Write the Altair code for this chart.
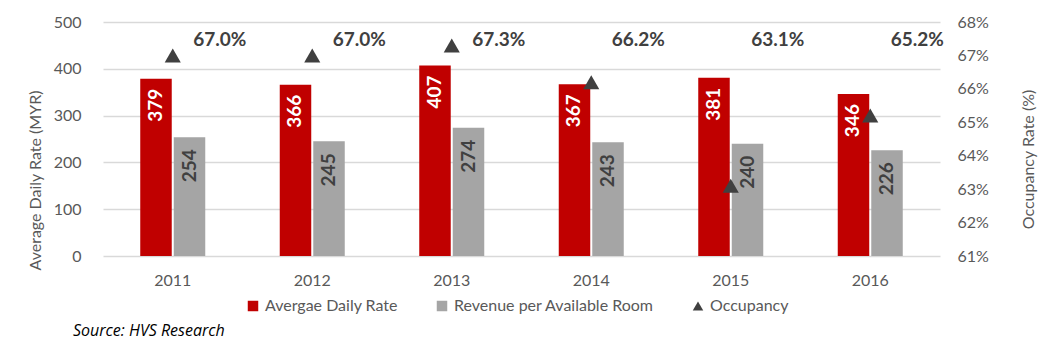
import altair as alt
import pandas as pd

years = ["2011", "2012", "2013", "2014", "2015", "2016"]
adr = [379, 366, 407, 367, 381, 346]
revpar = [254, 245, 274, 243, 240, 226]
occupancy = [67.0, 67.0, 67.3, 66.2, 63.1, 65.2]

S_ADR = "Avergae Daily Rate"
S_REV = "Revenue per Available Room"
S_OCC = "Occupancy"

bars_df = pd.DataFrame(
    [{"year": y, "series": S_ADR, "value": v} for y, v in zip(years, adr)]
    + [{"year": y, "series": S_REV, "value": v} for y, v in zip(years, revpar)]
)
occ_df = pd.DataFrame({"year": years, "occ": occupancy, "series": S_OCC})
occ_df["label"] = occ_df["occ"].map(lambda v: f"{v:.1f}%")

FONT = "Lato"
domain = [S_ADR, S_REV, S_OCC]
color_scale = alt.Scale(domain=domain, range=["#C00000", "#A5A5A5", "#404040"])
shape_scale = alt.Scale(domain=domain, range=["square", "square", "triangle-up"])

x_enc = alt.X(
    "year:N",
    sort=years,
    scale=alt.Scale(paddingInner=0.534, paddingOuter=0.267),
    axis=alt.Axis(
        title=None, labelAngle=0, labelPadding=16, ticks=False, domain=False,
        labelFontSize=16, labelColor="#595959", labelFont=FONT, grid=False,
    ),
)
xoff = alt.XOffset("series:N", sort=[S_ADR, S_REV], scale=alt.Scale(paddingInner=0.06))
y_left = alt.Y(
    "value:Q",
    scale=alt.Scale(domain=[0, 500], nice=False),
    axis=alt.Axis(
        title="Average Daily Rate (MYR)", values=[0, 100, 200, 300, 400, 500],
        ticks=False, domain=False, labelPadding=22, labelFontSize=16,
        labelColor="#595959", labelFont=FONT, gridColor="#D9D9D9", gridWidth=1.5,
        titleFontSize=16, titleFont=FONT, titleFontWeight="normal", titleColor="#595959",
        titleAngle=270, titleX=-68, titleY=158, titleAlign="center", titleBaseline="middle",
    ),
)

bars = alt.Chart(bars_df).mark_bar().encode(
    x=x_enc,
    xOffset=xoff,
    y=y_left,
    color=alt.Color("series:N", scale=color_scale, legend=alt.Legend(title=None)),
)

adr_labels = alt.Chart(bars_df).transform_filter(
    alt.datum.series == S_ADR
).mark_text(
    angle=270, align="right", baseline="middle", dx=-10, font=FONT,
    fontSize=19, fontWeight="bold", color="white",
).encode(
    x=alt.X("year:N", sort=years),
    xOffset=xoff,
    y=alt.Y("value:Q", scale=alt.Scale(domain=[0, 500], nice=False), axis=None),
    text="value:Q",
)
rev_labels = alt.Chart(bars_df).transform_filter(
    alt.datum.series == S_REV
).mark_text(
    angle=270, align="right", baseline="middle", dx=-12, font=FONT,
    fontSize=19, fontWeight="bold", color="#404040",
).encode(
    x=alt.X("year:N", sort=years),
    xOffset=xoff,
    y=alt.Y("value:Q", scale=alt.Scale(domain=[0, 500], nice=False), axis=None),
    text="value:Q",
)

points = alt.Chart(occ_df).mark_point(filled=True, opacity=1, size=260).encode(
    x=alt.X("year:N", sort=years),
    y=alt.Y(
        "occ:Q",
        scale=alt.Scale(domain=[61, 68], nice=False, zero=False),
        axis=alt.Axis(
            orient="right", title="Occupancy Rate (%)", values=list(range(61, 69)),
            labelExpr="datum.value + '%'", ticks=False, domain=False, grid=False,
            labelPadding=17, labelFontSize=16, labelColor="#595959", labelFont=FONT,
            titleFontSize=16, titleFont=FONT, titleFontWeight="normal", titleColor="#595959",
            titleAngle=270, titleX=88, titleY=137, titleAlign="center", titleBaseline="middle",
        ),
    ),
    color=alt.Color("series:N", scale=color_scale, legend=alt.Legend(title=None)),
    shape=alt.Shape("series:N", scale=shape_scale, legend=alt.Legend(title=None)),
)

occ_labels = alt.Chart(occ_df).mark_text(
    align="center", baseline="middle", dx=47, font=FONT, fontSize=19,
    fontWeight="bold", color="#404040",
).encode(
    x=alt.X("year:N", sort=years),
    y=alt.value(18),
    text="label:N",
)

chart = alt.layer(bars, adr_labels, rev_labels, points, occ_labels).resolve_scale(
    y="independent"
).properties(
    width=837,
    height=234,
    autosize=alt.AutoSizeParams(type="none"),
    padding={"left": 103, "top": 22, "right": 102, "bottom": 96},
    title=alt.TitleParams(
        "Source: HVS Research", orient="bottom", anchor="start", frame="group",
        dx=-30, offset=9,
        fontSize=16, font="Open Sans", fontStyle="italic", fontWeight="normal", color="black",
    ),
).configure_view(stroke=None).configure_legend(
    orient="none", legendX=142, legendY=276, direction="horizontal",
    labelFontSize=16, labelFont=FONT, labelColor="#595959", symbolSize=110,
    symbolStrokeWidth=0, columnPadding=36, symbolOpacity=1, labelLimit=400,
)

chart.save("out.html", embed_options={"renderer": "svg", "actions": False})
